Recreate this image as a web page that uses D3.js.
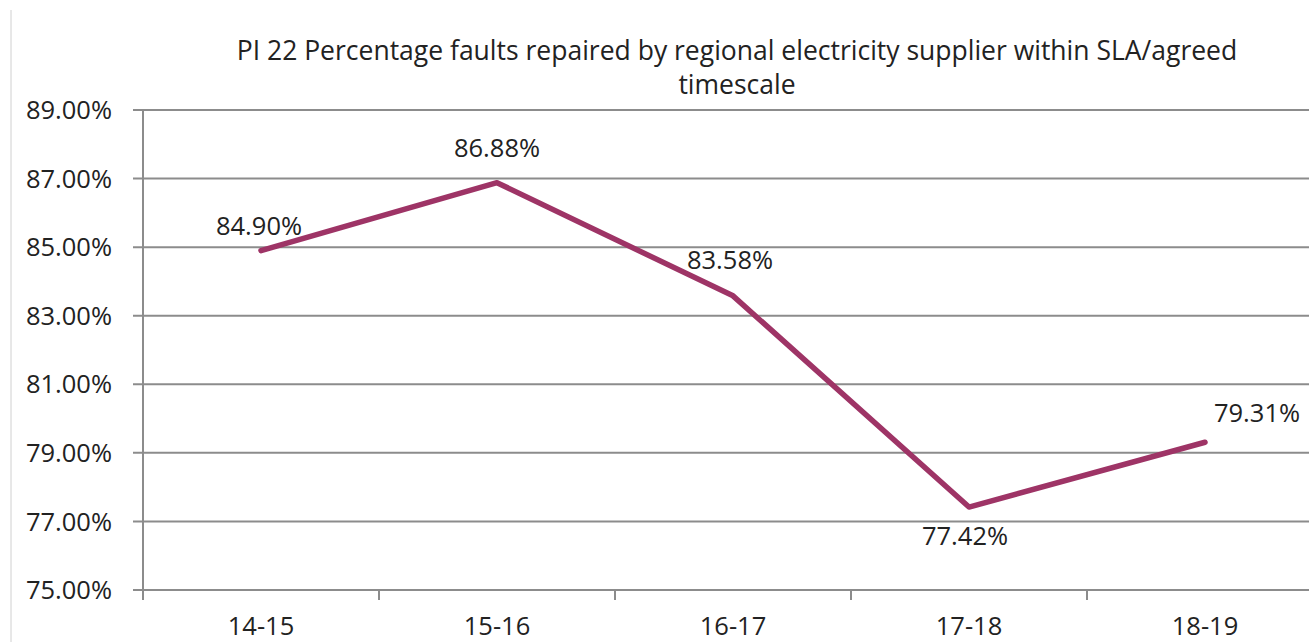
<!DOCTYPE html>
<html><head><meta charset="utf-8">
<script src="https://cdn.jsdelivr.net/npm/d3@7"></script>
<style>body{margin:0;background:#fff;overflow:hidden}text{font-family:"Open Sans","Noto Sans",sans-serif;fill:#222}</style>
</head><body>
<script>
const categories = ["14-15","15-16","16-17","17-18","18-19"];
const values = [84.90, 86.88, 83.58, 77.42, 79.31];
const yTicks = [75, 77, 79, 81, 83, 85, 87, 89];
const titleLines = ["PI 22 Percentage faults repaired by regional electricity supplier within SLA/agreed", "timescale"];
// label placement: [dx, dy] relative to point
const labelOffsets = [[-2,-16],[0,-26],[-3,-27],[-4,38],[52,-20]];

const W = 1309, H = 642;
const svg = d3.select("body").append("svg").attr("width", W).attr("height", H);
const m = {left:143, right:1323, top:110, bottom:590};

const x = d3.scaleBand().domain(categories).range([m.left, m.right]).padding(0);
const y = d3.scaleLinear().domain([75, 89]).range([m.bottom, m.top]);

svg.append("line").attr("x1",11).attr("x2",11).attr("y1",10).attr("y2",H).attr("stroke","#d0d0d0").attr("stroke-width",1);

// gridlines
svg.append("g").selectAll("line").data(yTicks).join("line")
  .attr("x1", m.left-10).attr("x2", m.right).attr("y1", d=>y(d)).attr("y2", d=>y(d))
  .attr("stroke","#8c8c8c").attr("stroke-width",2);

// y axis line
svg.append("line").attr("x1",m.left).attr("x2",m.left).attr("y1",m.top).attr("y2",m.bottom+10)
  .attr("stroke","#8c8c8c").attr("stroke-width",2);

// x ticks
const bounds = categories.map(c=>x(c)).concat([m.right]);
svg.append("g").selectAll("line").data(bounds).join("line")
  .attr("x1",d=>d).attr("x2",d=>d).attr("y1",m.bottom).attr("y2",m.bottom+10)
  .attr("stroke","#8c8c8c").attr("stroke-width",2);

const fs = "25.5px";
// y labels
svg.append("g").selectAll("text").data(yTicks).join("text")
  .attr("x",112).attr("y",d=>y(d)).attr("dy","0.36em").attr("text-anchor","end")
  .style("font-size",fs).text(d=>d.toFixed(2)+"%");

// x labels
svg.append("g").selectAll("text").data(categories).join("text")
  .attr("x",d=>x(d)+x.bandwidth()/2).attr("y",635).attr("text-anchor","middle")
  .style("font-size",fs).text(d=>d);

// title
svg.append("g").selectAll("text").data(titleLines).join("text")
  .attr("x",737).attr("y",(d,i)=>60+i*34).attr("text-anchor","middle")
  .style("font-size","26.5px").text(d=>d);

// line
const line = d3.line().x((d,i)=>x(categories[i])+x.bandwidth()/2).y(d=>y(d));
svg.append("path").datum(values).attr("d",line).attr("fill","none")
  .attr("stroke","#9e3466").attr("stroke-width",5.5).attr("stroke-linecap","round").attr("stroke-linejoin","round");

// data labels
svg.append("g").selectAll("text").data(values).join("text")
  .attr("x",(d,i)=>x(categories[i])+x.bandwidth()/2+labelOffsets[i][0])
  .attr("y",(d,i)=>y(d)+labelOffsets[i][1]).attr("text-anchor","middle")
  .style("font-size",fs).text(d=>d.toFixed(2)+"%");
</script>
</body></html>
